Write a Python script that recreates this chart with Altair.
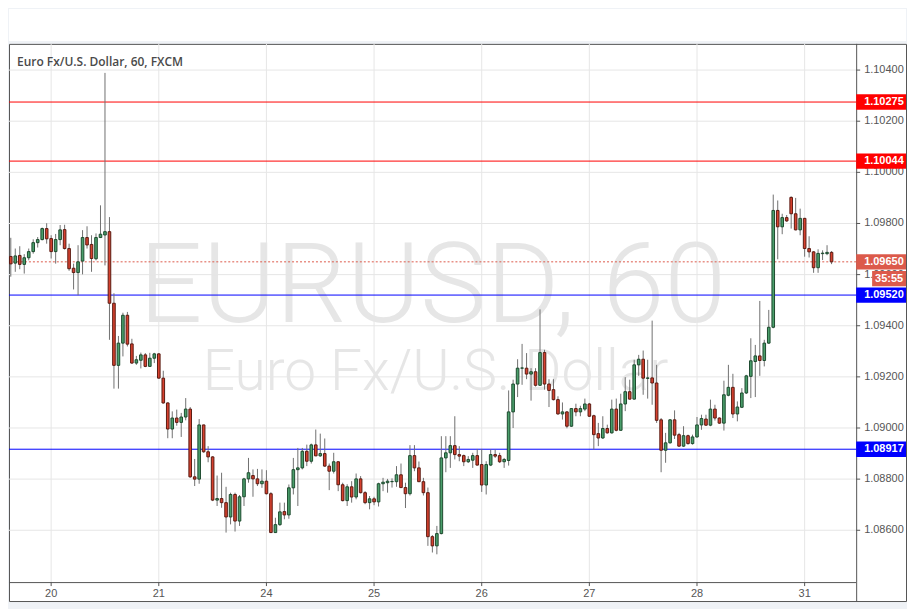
import altair as alt
import pandas as pd

# ---- candle data (hourly EURUSD) ----
opens = [
    1.09671, 1.09645, 1.09675, 1.09640, 1.09666, 1.09690, 1.09725, 1.09737, 1.09780, 1.09741,
    1.09690, 1.09737, 1.09776, 1.09702, 1.09625, 1.09608, 1.09653, 1.09745, 1.09718, 1.09662,
    1.09745, 1.09755, 1.09768, 1.09488, 1.09245, 1.09332, 1.09441, 1.09329, 1.09254, 1.09265,
    1.09286, 1.09241, 1.09273, 1.09290, 1.09195, 1.09098, 1.08996, 1.09039, 1.09022, 1.09043,
    1.09074, 1.08809, 1.08800, 1.09012, 1.08907, 1.08887, 1.08718, 1.08724, 1.08708, 1.08652,
    1.08740, 1.08636, 1.08731, 1.08801, 1.08814, 1.08801, 1.08782, 1.08792, 1.08743, 1.08591,
    1.08622, 1.08673, 1.08660, 1.08766, 1.08837, 1.08844, 1.08909, 1.08870, 1.08934, 1.08891,
    1.08900, 1.08851, 1.08831, 1.08868, 1.08778, 1.08716, 1.08770, 1.08730, 1.08801, 1.08747,
    1.08708, 1.08723, 1.08711, 1.08782, 1.08786, 1.08790, 1.08790, 1.08817, 1.08767, 1.08743,
    1.08892, 1.08844, 1.08790, 1.08747, 1.08575, 1.08539, 1.08587, 1.08883, 1.08903, 1.08931,
    1.08896, 1.08892, 1.08868, 1.08874, 1.08892, 1.08857, 1.08777, 1.08855, 1.08896, 1.08892,
    1.08868, 1.08873, 1.09063, 1.09172, 1.09234, 1.09234, 1.09211, 1.09220, 1.09167, 1.09295,
    1.09172, 1.09150, 1.09111, 1.09055, 1.09063, 1.09007, 1.09076, 1.09063, 1.09074, 1.09094,
    1.09048, 1.08978, 1.08961, 1.08998, 1.08981, 1.09074, 1.08991, 1.09094, 1.09142, 1.09113,
    1.09247, 1.09269, 1.09194, 1.09196, 1.09176, 1.09032, 1.08913, 1.08942, 1.09032, 1.08974,
    1.08929, 1.08970, 1.08939, 1.08965, 1.09012, 1.09035, 1.09011, 1.09074, 1.09039, 1.09019,
    1.09128, 1.09159, 1.09055, 1.09081, 1.09137, 1.09202, 1.09260, 1.09282, 1.09264, 1.09332,
    1.09394, 1.09851, 1.09787, 1.09823, 1.09902, 1.09838, 1.09775, 1.09820, 1.09702, 1.09689,
    1.09627, 1.09682, 1.09682, 1.09687,
]
highs = [
    1.09744, 1.09702, 1.09711, 1.09680, 1.09702, 1.09738, 1.09747, 1.09784, 1.09801, 1.09754,
    1.09759, 1.09794, 1.09795, 1.09721, 1.09643, 1.09715, 1.09774, 1.09789, 1.09754, 1.09761,
    1.09871, 1.10389, 1.09825, 1.09527, 1.09360, 1.09451, 1.09454, 1.09349, 1.09282, 1.09295,
    1.09293, 1.09294, 1.09294, 1.09293, 1.09224, 1.09101, 1.09065, 1.09072, 1.09059, 1.09117,
    1.09082, 1.08879, 1.09035, 1.09013, 1.08929, 1.08890, 1.08814, 1.08825, 1.08770, 1.08747,
    1.08747, 1.08738, 1.08805, 1.08883, 1.08838, 1.08840, 1.08838, 1.08835, 1.08749, 1.08649,
    1.08708, 1.08708, 1.08779, 1.08883, 1.08922, 1.08922, 1.08935, 1.08939, 1.08994, 1.08978,
    1.08959, 1.08861, 1.08903, 1.08870, 1.08786, 1.08780, 1.08792, 1.08822, 1.08812, 1.08753,
    1.08734, 1.08731, 1.08786, 1.08805, 1.08801, 1.08803, 1.08851, 1.08861, 1.08786, 1.08933,
    1.08933, 1.08869, 1.08805, 1.08767, 1.08581, 1.08617, 1.08968, 1.08968, 1.08968, 1.09046,
    1.08929, 1.08896, 1.08890, 1.08903, 1.08918, 1.08918, 1.08870, 1.08916, 1.08916, 1.08903,
    1.08883, 1.09147, 1.09189, 1.09269, 1.09329, 1.09293, 1.09234, 1.09234, 1.09464, 1.09306,
    1.09191, 1.09191, 1.09124, 1.09100, 1.09066, 1.09078, 1.09095, 1.09087, 1.09115, 1.09098,
    1.09052, 1.09020, 1.09046, 1.09013, 1.09111, 1.09115, 1.09134, 1.09199, 1.09189, 1.09267,
    1.09286, 1.09303, 1.09267, 1.09420, 1.09247, 1.09039, 1.08981, 1.09035, 1.09069, 1.08981,
    1.09007, 1.08974, 1.08974, 1.09043, 1.09052, 1.09052, 1.09111, 1.09091, 1.09042, 1.09185,
    1.09247, 1.09212, 1.09104, 1.09156, 1.09208, 1.09351, 1.09325, 1.09497, 1.09345, 1.09462,
    1.09913, 1.09890, 1.09838, 1.09833, 1.09906, 1.09900, 1.09858, 1.09822, 1.09750, 1.09692,
    1.09699, 1.09695, 1.09715, 1.09692,
]
lows = [
    1.09592, 1.09611, 1.09621, 1.09604, 1.09656, 1.09682, 1.09706, 1.09734, 1.09721, 1.09663,
    1.09643, 1.09715, 1.09698, 1.09615, 1.09542, 1.09519, 1.09601, 1.09702, 1.09611, 1.09656,
    1.09743, 1.09636, 1.09345, 1.09154, 1.09154, 1.09280, 1.09319, 1.09251, 1.09247, 1.09233,
    1.09238, 1.09240, 1.09254, 1.09193, 1.09095, 1.08960, 1.08960, 1.09009, 1.08965, 1.09030,
    1.08805, 1.08773, 1.08782, 1.08903, 1.08866, 1.08714, 1.08695, 1.08688, 1.08591, 1.08623,
    1.08595, 1.08617, 1.08695, 1.08786, 1.08731, 1.08773, 1.08766, 1.08740, 1.08589, 1.08590,
    1.08617, 1.08643, 1.08645, 1.08740, 1.08695, 1.08838, 1.08851, 1.08861, 1.08890, 1.08887,
    1.08848, 1.08757, 1.08822, 1.08753, 1.08713, 1.08695, 1.08708, 1.08721, 1.08744, 1.08702,
    1.08682, 1.08698, 1.08693, 1.08753, 1.08747, 1.08767, 1.08770, 1.08765, 1.08687, 1.08736,
    1.08831, 1.08789, 1.08736, 1.08539, 1.08513, 1.08506, 1.08584, 1.08827, 1.08844, 1.08877,
    1.08870, 1.08851, 1.08863, 1.08844, 1.08853, 1.08750, 1.08740, 1.08851, 1.08883, 1.08863,
    1.08844, 1.08853, 1.09000, 1.09121, 1.09169, 1.09191, 1.09107, 1.09162, 1.09165, 1.09150,
    1.09082, 1.09108, 1.09052, 1.09033, 1.08999, 1.09004, 1.09046, 1.09046, 1.09066, 1.09043,
    1.08916, 1.08929, 1.08957, 1.08978, 1.08978, 1.08987, 1.08990, 1.09066, 1.09111, 1.09111,
    1.09204, 1.09130, 1.09115, 1.09091, 1.09020, 1.08827, 1.08864, 1.08939, 1.08957, 1.08926,
    1.08926, 1.08935, 1.08935, 1.08962, 1.08993, 1.09008, 1.09007, 1.09029, 1.09016, 1.08990,
    1.09124, 1.09039, 1.09026, 1.09078, 1.09133, 1.09117, 1.09121, 1.09204, 1.09241, 1.09329,
    1.09390, 1.09660, 1.09758, 1.09806, 1.09780, 1.09773, 1.09754, 1.09670, 1.09667, 1.09607,
    1.09607, 1.09657, 1.09676, 1.09641,
]
closes = [
    1.09642, 1.09673, 1.09640, 1.09666, 1.09690, 1.09725, 1.09737, 1.09780, 1.09740, 1.09690,
    1.09737, 1.09775, 1.09702, 1.09623, 1.09608, 1.09650, 1.09745, 1.09716, 1.09663, 1.09745,
    1.09758, 1.09768, 1.09488, 1.09245, 1.09332, 1.09441, 1.09328, 1.09254, 1.09267, 1.09286,
    1.09241, 1.09273, 1.09290, 1.09195, 1.09098, 1.08996, 1.09039, 1.09022, 1.09043, 1.09074,
    1.08809, 1.08800, 1.09012, 1.08907, 1.08887, 1.08718, 1.08724, 1.08708, 1.08652, 1.08740,
    1.08636, 1.08731, 1.08801, 1.08825, 1.08801, 1.08782, 1.08792, 1.08743, 1.08591, 1.08622,
    1.08672, 1.08660, 1.08766, 1.08837, 1.08844, 1.08909, 1.08870, 1.08934, 1.08891, 1.08900,
    1.08851, 1.08831, 1.08868, 1.08778, 1.08716, 1.08770, 1.08730, 1.08801, 1.08747, 1.08708,
    1.08723, 1.08711, 1.08782, 1.08788, 1.08792, 1.08791, 1.08817, 1.08767, 1.08743, 1.08892,
    1.08844, 1.08790, 1.08747, 1.08575, 1.08539, 1.08587, 1.08883, 1.08903, 1.08931, 1.08896,
    1.08890, 1.08868, 1.08877, 1.08892, 1.08855, 1.08777, 1.08857, 1.08896, 1.08890, 1.08868,
    1.08877, 1.09063, 1.09172, 1.09234, 1.09235, 1.09211, 1.09220, 1.09167, 1.09295, 1.09172,
    1.09147, 1.09111, 1.09055, 1.09063, 1.09007, 1.09076, 1.09063, 1.09076, 1.09094, 1.09046,
    1.08974, 1.08961, 1.08998, 1.08981, 1.09074, 1.08991, 1.09094, 1.09142, 1.09113, 1.09247,
    1.09269, 1.09195, 1.09196, 1.09176, 1.09030, 1.08913, 1.08942, 1.09032, 1.08972, 1.08929,
    1.08970, 1.08939, 1.08965, 1.09012, 1.09037, 1.09011, 1.09074, 1.09039, 1.09019, 1.09130,
    1.09159, 1.09055, 1.09082, 1.09137, 1.09204, 1.09263, 1.09282, 1.09264, 1.09332, 1.09394,
    1.09851, 1.09787, 1.09823, 1.09810, 1.09838, 1.09775, 1.09820, 1.09702, 1.09689, 1.09627,
    1.09683, 1.09684, 1.09687, 1.09650,
]

# ---- axis ticks / labels ----
day_labels = ["20", "21", "24", "25", "26", "27", "28", "31"]
day_pos = [9, 33, 57, 81, 105, 129, 153, 177]
price_ticks = [1.086, 1.088, 1.090, 1.092, 1.094, 1.096, 1.098, 1.100, 1.102, 1.104]
price_tick_labels = ["1.08600", "1.08800", "1.09000", "1.09200", "1.09400",
                     "1.09600", "1.09800", "1.10000", "1.10200", "1.10400"]

# ---- horizontal levels ----
level_values = [1.10275, 1.10044, 1.09520, 1.08917]
level_labels = ["1.10275", "1.10044", "1.09520", "1.08917"]
level_colors = ["#ff0000", "#ff0000", "#0000ff", "#0000ff"]
last_price = [1.09650]
last_label = ["1.09650"]
countdown = ["35:55"]

title_text = "Euro Fx/U.S. Dollar, 60, FXCM"
wm_big = "EURUSD, 60"
wm_small = "Euro Fx/U.S. Dollar"

UP_FILL, UP_LINE = "#4a9e6b", "#1d4a2e"
DN_FILL, DN_LINE = "#d6402e", "#5a1b12"
BOX_HALF = 0.00030      # half height of a price tag (in price units)
CD_SHIFT = 0.00066      # countdown tag sits just below the last-price tag

candles = pd.DataFrame({"i": list(range(len(opens))), "o": opens, "h": highs,
                        "l": lows, "c": closes})
xs = alt.Scale(domain=[-0.4, 188.49], nice=False, zero=False)
ys = alt.Scale(domain=[1.083973, 1.105025], nice=False, zero=False)
one = pd.DataFrame({"k": [0]})

band = alt.Chart(one).mark_rect(fill="white").encode(
    x=alt.value(0), x2=alt.value(900), y=alt.value(-35), y2=alt.value(-3))
panel = alt.Chart(one).mark_rect(fill="white", stroke="#555555", strokeWidth=1).encode(
    x=alt.value(0.5), x2=alt.value(900.5), y=alt.value(0.5), y2=alt.value(559.5))

wm1 = alt.Chart(one).mark_text(text=wm_big, font="Roboto", fontWeight=300, fontSize=112,
                               color="#e6e6e6", align="center", baseline="alphabetic").encode(
    x=alt.value(425), y=alt.value(279))
wm2 = alt.Chart(one).mark_text(text=wm_small, font="Roboto", fontWeight=300, fontSize=57,
                               color="#e6e6e6", align="center", baseline="alphabetic").encode(
    x=alt.value(428), y=alt.value(347))

ptick_df = pd.DataFrame({"p": price_ticks, "lab": price_tick_labels})
day_df = pd.DataFrame({"i": day_pos, "lab": day_labels})

hgrid = alt.Chart(ptick_df).mark_rule(color="#e6e6e6", strokeWidth=1).encode(
    y=alt.Y("p:Q", scale=ys, axis=None), x=alt.value(0), x2=alt.value(850))
vgrid = alt.Chart(day_df).mark_rule(color="#e6e6e6", strokeWidth=1).encode(
    x=alt.X("i:Q", scale=xs, axis=None), y=alt.value(0), y2=alt.value(540))

title = alt.Chart(one).mark_text(text=title_text, font="Open Sans", fontWeight=600, fontSize=12,
                                 color="#4a4a4a", align="left", baseline="alphabetic").encode(
    x=alt.value(8), y=alt.value(22))

lv_df = pd.DataFrame({"p": level_values, "lab": level_labels, "col": level_colors})
lv_lines = alt.Chart(lv_df).mark_rule(strokeWidth=1).encode(
    y=alt.Y("p:Q", scale=ys, axis=None), x=alt.value(0), x2=alt.value(850),
    color=alt.Color("col:N", scale=None, legend=None))

last_df = pd.DataFrame({"p": last_price, "lab": last_label, "cd": countdown})
last_line = alt.Chart(last_df).mark_rule(strokeWidth=1, color="#dc5a4b", strokeDash=[2, 2]).encode(
    y=alt.Y("p:Q", scale=ys, axis=None), x=alt.value(0), x2=alt.value(850))

up = "datum.c >= datum.o"
wicks = alt.Chart(candles).mark_rule(color="#707070", strokeWidth=1).encode(
    x=alt.X("i:Q", scale=xs, axis=None),
    y=alt.Y("l:Q", scale=ys, axis=None), y2="h:Q")
bodies = alt.Chart(candles).transform_calculate(
    xl="datum.i - 0.29", xr="datum.i + 0.29").mark_rect(strokeWidth=1).encode(
    x=alt.X("xl:Q", scale=xs, axis=None), x2="xr:Q",
    y=alt.Y("o:Q", scale=ys, axis=None), y2="c:Q",
    fill=alt.condition(up, alt.value(UP_FILL), alt.value(DN_FILL)),
    stroke=alt.condition(up, alt.value(UP_LINE), alt.value(DN_LINE)))

xline = alt.Chart(one).mark_rule(color="#555555", strokeWidth=1).encode(
    x=alt.value(0), x2=alt.value(850), y=alt.value(540.5))
yline = alt.Chart(one).mark_rule(color="#555555", strokeWidth=1).encode(
    x=alt.value(850.5), y=alt.value(0), y2=alt.value(559))

yticks = alt.Chart(ptick_df).mark_rule(color="#555555", strokeWidth=1).encode(
    y=alt.Y("p:Q", scale=ys, axis=None), x=alt.value(850), x2=alt.value(854))
ylabels = alt.Chart(ptick_df).mark_text(font="Liberation Sans", fontSize=11, color="#555555",
                                        align="left", baseline="middle").encode(
    y=alt.Y("p:Q", scale=ys, axis=None), x=alt.value(858), text="lab:N")
xticks = alt.Chart(day_df).mark_rule(color="#555555", strokeWidth=1).encode(
    x=alt.X("i:Q", scale=xs, axis=None), y=alt.value(540), y2=alt.value(544))
xlabels = alt.Chart(day_df).mark_text(font="Liberation Sans", fontSize=11, color="#555555",
                                      align="center", baseline="middle").encode(
    x=alt.X("i:Q", scale=xs, axis=None), y=alt.value(552), text="lab:N")

lv_boxes = alt.Chart(lv_df).transform_calculate(
    lo=f"datum.p - {BOX_HALF}", hi=f"datum.p + {BOX_HALF}").mark_rect().encode(
    y=alt.Y("lo:Q", scale=ys, axis=None), y2="hi:Q", x=alt.value(850), x2=alt.value(900),
    fill=alt.Color("col:N", scale=None, legend=None))
lv_text = alt.Chart(lv_df).mark_text(font="Liberation Sans", fontSize=11, fontWeight="bold",
                                     color="white", align="left", baseline="middle").encode(
    y=alt.Y("p:Q", scale=ys, axis=None), x=alt.value(858), text="lab:N")

cd_box = alt.Chart(last_df).transform_calculate(
    lo=f"datum.p - {CD_SHIFT} - {BOX_HALF}", hi=f"datum.p - {CD_SHIFT} + {BOX_HALF}"
).mark_rect(fill="#dc5a4b").encode(
    y=alt.Y("lo:Q", scale=ys, axis=None), y2="hi:Q", x=alt.value(866), x2=alt.value(900))
cd_text = alt.Chart(last_df).transform_calculate(
    pc=f"datum.p - {CD_SHIFT}").mark_text(font="Liberation Sans", fontSize=11, fontWeight="bold",
                                          color="white", align="center", baseline="middle").encode(
    y=alt.Y("pc:Q", scale=ys, axis=None), x=alt.value(883), text="cd:N")
last_box = alt.Chart(last_df).transform_calculate(
    lo=f"datum.p - {BOX_HALF}", hi=f"datum.p + {BOX_HALF}").mark_rect(fill="#dc5a4b").encode(
    y=alt.Y("lo:Q", scale=ys, axis=None), y2="hi:Q", x=alt.value(850), x2=alt.value(900))
last_text = alt.Chart(last_df).mark_text(font="Liberation Sans", fontSize=11, fontWeight="bold",
                                         color="white", align="left", baseline="middle").encode(
    y=alt.Y("p:Q", scale=ys, axis=None), x=alt.value(858), text="lab:N")

chart = alt.layer(
    band, panel, wm1, wm2, hgrid, vgrid, title, lv_lines, last_line,
    wicks, bodies, xline, yline, yticks, ylabels, xticks, xlabels,
    lv_boxes, lv_text, cd_box, cd_text, last_box, last_text,
).properties(
    width=850, height=540, background="#eff2f6",
    padding={"left": 0, "top": 0, "right": 0, "bottom": 6},
).configure_view(stroke=None)

chart.save("out.html", embed_options={"renderer": "svg", "actions": False})
